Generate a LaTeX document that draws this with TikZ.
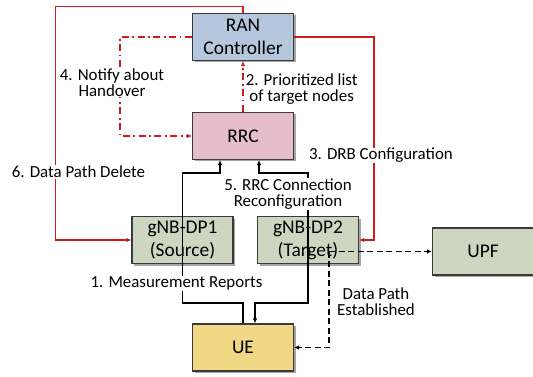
\documentclass[tikz,border=0pt]{standalone}
\usepackage{fontspec}
\setmainfont{Carlito}
\usetikzlibrary{arrows.meta,shadows,calc}
\definecolor{ranblue}{HTML}{B4C7DD}
\definecolor{rrcpink}{HTML}{E6BDCB}
\definecolor{gnbgreen}{HTML}{CCD6C0}
\definecolor{ueyellow}{HTML}{F1D885}
\definecolor{lnred}{HTML}{CC1C1C}
\definecolor{bordergray}{HTML}{3A3A3A}
\tikzset{
  boxnode/.style={draw=bordergray, line width=1.1pt, minimum width=101pt, minimum height=47pt,
    inner sep=0pt, align=center, font={\fontsize{19.4}{23}\selectfont},
    drop shadow={shadow xshift=2pt, shadow yshift=-2pt, opacity=0.35, fill=black}},
  lbl/.style={fill=white, inner sep=0.6pt, align=center, font={\fontsize{16.9}{16}\selectfont}},
  redln/.style={draw=lnred, line width=1.5pt},
  blkln/.style={draw=black, line width=1.2pt},
  tip/.style={-{Latex[length=5pt,width=4.5pt]}},
  dashdot/.style={dash pattern=on 7pt off 3.5pt on 1.8pt off 3.5pt},
  dashblk/.style={dash pattern=on 6pt off 3.5pt}
}
\begin{document}
\begin{tikzpicture}[x=1pt,y=-1pt]
\useasboundingbox (0,0) rectangle (533,377);
% boxes
\node[boxnode, fill=ranblue] (ran) at (243,37) {RAN\\Controller};
\node[boxnode, fill=rrcpink] (rrc) at (243,136) {RRC};
\node[boxnode, fill=gnbgreen] (dp1) at (182.5,240) {gNB-DP1\\(Source)};
\node[boxnode, fill=gnbgreen] (dp2) at (308,240) {gNB-DP2\\(Target)};
\node[boxnode, fill=gnbgreen] (upf) at (483,251.5) {UPF};
\node[boxnode, fill=ueyellow] (ue) at (243,347.5) {UE};
\coordinate (dpo) at (329,251.5);
% red connectors
\draw[redln, tip] (ran.north) |- (55.5,6.5) |- (dp1.west);
\draw[redln, tip] (ran.east) -| ($(dp2.east)+(15,0)$) -- (dp2.east);
\draw[redln, dashdot, tip] (rrc.north) -- (ran.south);
\draw[redln, dashdot, tip] (ran.west) -- (120,37) |- (rrc.west);
% black connectors
\draw[blkln, tip] (ue.north) |- ($(dp1.center)+(0,63)$) -- ($(rrc.south)+(-60.5,13)$) -- ($(rrc.south)+(-23,13)$) -- ($(rrc.south)+(-23,0)$);
\draw[blkln, {Latex[length=5pt,width=4.5pt]}-{Latex[length=5pt,width=4.5pt]}] ($(rrc.south)+(16,0)$) -- ($(rrc.south)+(16,13)$) -| ($(dp2.center)+(0,63)$) -| ($(ue.north)+(12,0)$);
\draw[blkln, dashblk, tip] (dpo) -- (upf.west);
\draw[blkln, dashblk, tip] (dpo) |- (ue.east);
% labels
\node[lbl, anchor=west] (l2) at (245,89.5) {2. Prioritized list\\of target nodes};
\node[lbl] (l4) at (112,82.5) {4. Notify about\\Handover};
\node[lbl] (l6) at (78.5,172) {6. Data Path Delete};
\node[lbl] (l3) at (381,155.5) {3. DRB Configuration};
\node[lbl] (l5) at (288,194) {5. RRC Connection\\Reconfiguration};
\node[lbl] (l1) at (176.5,283.5) {1. Measurement Reports};
\node[lbl] (ldp) at (376,301.5) {Data Path\\Established};
\end{tikzpicture}
\end{document}
